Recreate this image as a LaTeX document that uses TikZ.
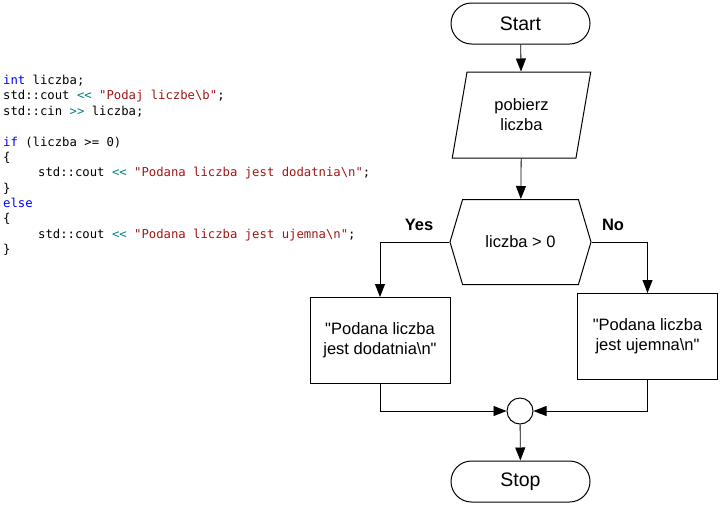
\documentclass[tikz,border=0pt]{standalone}
\usepackage{fontspec}
\setmainfont{Liberation Sans}
\setmonofont{DejaVu Sans Mono}
\usepackage{xcolor}
\usetikzlibrary{shapes.geometric,shapes.symbols,arrows.meta}

\definecolor{kwblue}{RGB}{0,0,255}
\definecolor{strred}{RGB}{163,21,21}
\definecolor{opteal}{RGB}{0,128,128}
\newcommand{\kw}[1]{\textcolor{kwblue}{#1}}
\newcommand{\str}[1]{\textcolor{strred}{#1}}
\newcommand{\op}[1]{\textcolor{opteal}{#1}}

\begin{document}
\begin{tikzpicture}[x=1pt,y=1pt,yscale=-1,
  every node/.style={font=\fontsize{16.5}{20}\selectfont},
  term/.style={draw, line width=1pt, rounded corners=20.5pt, minimum width=139pt, minimum height=41pt,
    font=\fontsize{19.5}{23}\selectfont},
  io/.style={draw, line width=1pt, trapezium, trapezium left angle=78, trapezium right angle=102,
    trapezium stretches=true, minimum width=139pt, minimum height=86pt, align=center},
  decision/.style={draw, line width=1pt, signal, signal to=west and east, signal pointer angle=147,
    minimum width=141pt, minimum height=85pt},
  process/.style={draw, line width=1pt, minimum width=140pt, minimum height=86pt, align=center},
  joint/.style={draw, line width=1pt, circle, minimum size=26pt, inner sep=0pt},
  answer/.style={font=\bfseries\fontsize{16.5}{20}\selectfont},
  flow/.style={line width=0.8pt, -{Triangle[length=13pt,width=10pt]}}
]
\useasboundingbox (0,0) rectangle (722,507);

% source code
\node[anchor=north west, inner sep=0pt, align=left,
  font=\ttfamily\fontsize{12.26}{15.36}\selectfont] (code) at (3,75)
  {\kw{int} liczba;\\
   std::cout \op{<<} \str{\textquotedbl Podaj liczbe\textbackslash b\textquotedbl};\\
   std::cin \op{>>} liczba;\\
   \mbox{}\\
   \kw{if} (liczba >= 0)\\
   \{\\
   \hspace{35pt}std::cout \op{<<} \str{\textquotedbl Podana liczba jest dodatnia\textbackslash n\textquotedbl};\\
   \}\\
   \kw{else}\\
   \{\\
   \hspace{35pt}std::cout \op{<<} \str{\textquotedbl Podana liczba jest ujemna\textbackslash n\textquotedbl};\\
   \}};

% flowchart
\node[term] (start) at (520.5,23.5) {Start};
\node[io] (in) at (521.5,115) {pobierz\\ liczba};
\node[decision] (cond) at (520.5,242) {liczba > 0};
\node[process] (yes) at (380,340.5) {\textquotedbl Podana liczba\\jest dodatnia\textbackslash n\textquotedbl};
\node[process] (no) at (647.5,336.5) {\textquotedbl Podana liczba\\jest ujemna\textbackslash n\textquotedbl};
\node[joint] (join) at (520,411) {};
\node[term] (stop) at (520.5,481.5) {Stop};

% branch labels
\node[answer] (lyes) at (419,225) {Yes};
\node[answer] (lno) at (613,225) {No};

% connectors
\draw[flow] (start) -- (in);
\draw[flow] (in) -- (cond);
\draw[flow] (cond.west) -| (yes);
\draw[flow] (cond.east) -| (no);
\draw[flow] (yes) |- (join);
\draw[flow] (no) |- (join);
\draw[flow] (join) -- (stop);
\end{tikzpicture}
\end{document}
